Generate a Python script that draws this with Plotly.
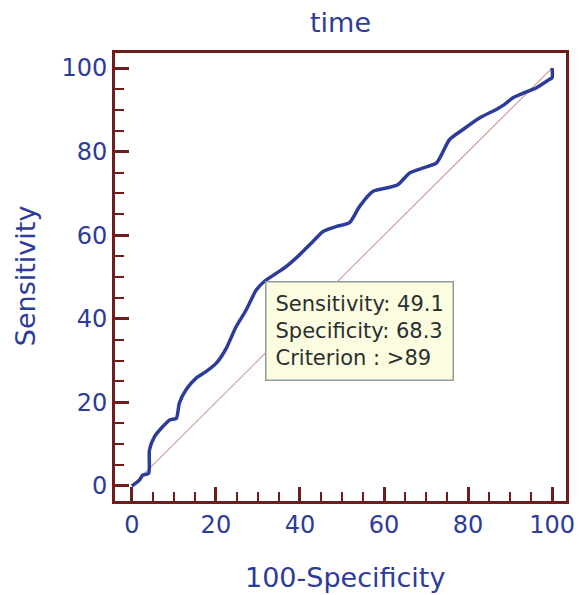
import plotly.graph_objects as go

# ROC curve points (100-Specificity, Sensitivity)
fpr = [0, 1.8, 2.6, 4.0, 4.2, 5.4, 7.0, 9.0, 10.6, 11.3, 12.9, 15.3, 17.7, 20.1,
       22.5, 24.8, 27.2, 29.6, 31.7, 34.4, 36.7, 39.9, 43.1, 45.5, 48.7, 51.8,
       54.2, 57.4, 60.6, 63.3, 66.1, 69.3, 72.5, 75.6, 78.8, 82.8, 86.7, 88.7,
       90.7, 93.9, 96.3, 99.4, 100, 100]
tpr = [0, 1.4, 2.6, 3.0, 8.6, 11.8, 13.8, 15.8, 16.2, 19.8, 23.0, 25.8, 27.4, 29.4,
       33.0, 38.1, 42.1, 46.9, 49.1, 50.9, 52.5, 55.3, 58.5, 60.9, 62.1, 63.0,
       66.9, 70.5, 71.3, 72.1, 74.9, 76.1, 77.3, 82.9, 85.3, 88.1, 90.1, 91.3,
       92.9, 94.3, 95.3, 97.3, 97.7, 100]
diag = [0, 100]

cut_sens = 49.1
cut_spec = 68.3
criterion = ">89"

title_text = "time"
x_title = "100-Specificity"
y_title = "Sensitivity"
tick_vals = [0, 20, 40, 60, 80, 100]

blue = "#2d3c98"
frame = "#6e1c1c"
font = "DejaVu Sans"

fig = go.Figure()
fig.add_trace(go.Scatter(x=diag, y=diag, mode="lines",
                         line=dict(color="#d2a39e", width=1.2),
                         hoverinfo="skip", showlegend=False))
fig.add_trace(go.Scatter(x=fpr, y=tpr, mode="lines",
                         line=dict(color=blue, width=3.5, shape="spline",
                                   smoothing=0.6),
                         showlegend=False))

fig.add_annotation(
    x=100 - cut_spec, y=cut_sens, xref="x", yref="y",
    xanchor="left", yanchor="top", showarrow=False, align="left",
    text=(f"Sensitivity: {cut_sens}<br>Specificity: {cut_spec}"
          f"<br>Criterion : {criterion}"),
    font=dict(family=font, size=21, color="#2a3030"),
    bgcolor="#fcfce0", bordercolor="#8aa0a0", borderwidth=1.5, borderpad=9,
)

# titles placed as text
fig.add_annotation(text=title_text, xref="paper", yref="paper", x=0.5, y=1.069,
                   xanchor="center", yanchor="middle", showarrow=False,
                   font=dict(family=font, size=27, color=blue))
fig.add_annotation(text=x_title, xref="paper", yref="paper", x=0.51, y=-0.17,
                   xanchor="center", yanchor="middle", showarrow=False,
                   font=dict(family=font, size=27, color=blue))
fig.add_annotation(text=y_title, xref="paper", yref="paper", x=-0.1996, y=0.504,
                   xanchor="center", yanchor="middle", showarrow=False,
                   textangle=-90,
                   font=dict(family=font, size=27, color=blue))

axis_common = dict(
    showline=True, mirror=True, linecolor=frame, linewidth=3,
    showgrid=False, zeroline=False, automargin=False,
    ticks="inside", ticklen=14, tickwidth=3, tickcolor=frame,
    tickvals=tick_vals,
    tickfont=dict(family=font, size=24, color=blue),
    minor=dict(ticks="inside", ticklen=9, tickwidth=2, tickcolor=frame, dtick=5,
               showgrid=False),
)

fig.update_layout(
    width=579, height=595,
    margin=dict(l=115, r=13, t=53, b=94),
    paper_bgcolor="white", plot_bgcolor="white",
    xaxis=dict(range=[-4, 103.3], **axis_common),
    yaxis=dict(range=[-3.6, 103.6], **axis_common),
)

fig.write_html("out.html", config={"displayModeBar": False},
               post_script="document.body.style.margin='0';"
                           "document.body.style.overflow='hidden';")
